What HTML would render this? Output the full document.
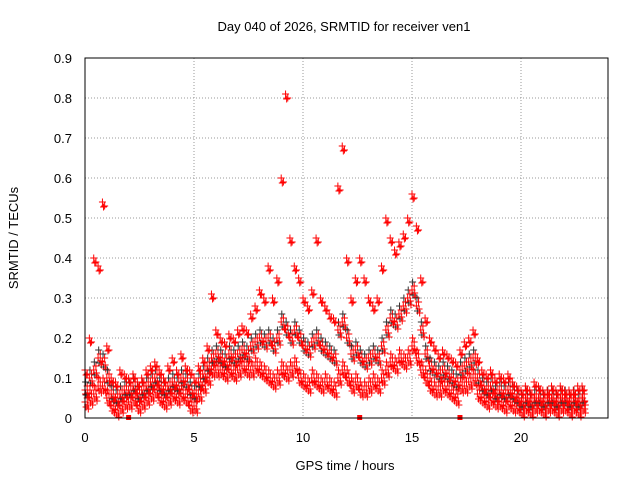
<!DOCTYPE html>
<html><head><meta charset="utf-8"><style>
body{margin:0;background:#fff;}
svg text{font-family:"Liberation Sans",sans-serif;font-size:13px;fill:#000;}
</style></head><body>
<svg width="640" height="480" xmlns="http://www.w3.org/2000/svg">
<text x="344" y="31" text-anchor="middle">Day 040 of 2026, SRMTID for receiver ven1</text>
<g id="grid"></g>
<g id="ticks"></g>
<g id="pts"></g>
<rect x="85" y="58" width="523" height="360" fill="none" stroke="#000"/>
<text x="345" y="470" text-anchor="middle">GPS time / hours</text>
<text transform="translate(18,238) rotate(-90)" text-anchor="middle">SRMTID / TECUs</text>
</svg>
<script>
const xTicks=[0,5,10,15,20];
const yTicks=[0,0.1,0.2,0.3,0.4,0.5,0.6,0.7,0.8,0.9];
const yLabels=["0","0.1","0.2","0.3","0.4","0.5","0.6","0.7","0.8","0.9"];
const tStep=0.2;
const midVals=[.07,.10,.12,.15,.14,.10,.06,.05,.06,.07,.07,.08,.06,.07,.08,.09,.10,.08,.07,.08,.09,.08,.10,.09,.07,.06,.09,.11,.13,.15,.16,.15,.14,.16,.15,.16,.17,.16,.18,.19,.20,.19,.20,.18,.20,.24,.22,.20,.22,.20,.18,.17,.19,.20,.18,.17,.16,.15,.22,.24,.20,.16,.17,.15,.14,.15,.16,.15,.18,.22,.25,.24,.26,.28,.30,.32,.28,.22,.16,.13,.12,.11,.12,.11,.10,.09,.12,.13,.14,.15,.10,.08,.07,.08,.06,.07,.06,.07,.06,.05,.04,.05,.04,.05,.05,.04,.05,.05,.04,.05,.05,.04,.05,.04,.05];
const hiVals=[.12,.20,.40,.38,.54,.18,.10,.09,.12,.11,.10,.11,.09,.10,.12,.13,.14,.12,.10,.13,.15,.12,.16,.13,.12,.10,.13,.15,.18,.31,.22,.20,.19,.21,.20,.22,.23,.22,.26,.28,.32,.30,.38,.30,.35,.60,.81,.45,.38,.35,.30,.28,.32,.45,.30,.28,.26,.25,.58,.68,.40,.30,.35,.40,.35,.30,.28,.30,.38,.50,.45,.42,.44,.46,.50,.56,.48,.35,.25,.20,.18,.16,.17,.16,.15,.14,.17,.19,.20,.22,.15,.12,.11,.12,.10,.11,.10,.11,.09,.08,.07,.08,.07,.09,.08,.07,.07,.08,.07,.08,.07,.07,.07,.08,.08];
const loVals=[.04,.05,.06,.08,.08,.05,.03,.02,.03,.04,.04,.05,.03,.04,.05,.06,.07,.05,.04,.05,.06,.05,.06,.05,.03,.03,.06,.08,.10,.12,.12,.12,.11,.12,.11,.12,.13,.12,.12,.13,.12,.11,.10,.09,.10,.12,.11,.12,.13,.10,.09,.08,.10,.09,.08,.09,.08,.07,.10,.12,.10,.08,.09,.07,.07,.08,.09,.08,.10,.12,.14,.13,.15,.14,.15,.18,.15,.12,.10,.08,.07,.07,.08,.07,.06,.05,.08,.08,.09,.10,.06,.05,.04,.05,.04,.04,.03,.04,.03,.03,.02,.03,.02,.03,.03,.02,.03,.03,.02,.03,.03,.02,.03,.02,.03];
const gapMarks=[2.0,12.6,17.2];
const X=t=>85+t*(436/20), Y=v=>418-v*400;
const NS="http://www.w3.org/2000/svg";
function mk(tag,at,parent){const e=document.createElementNS(NS,tag);for(const k in at)e.setAttribute(k,at[k]);parent.appendChild(e);return e;}
const grid=document.getElementById('grid'),ticks=document.getElementById('ticks'),pts=document.getElementById('pts');
xTicks.forEach(t=>{
 const l=mk('line',{x1:X(t),x2:X(t),y1:58,y2:418,stroke:'#999','stroke-dasharray':'1,2'},grid);
 
 
 const tx=mk('text',{x:X(t),y:442,'text-anchor':'middle'},ticks);tx.textContent=t;
 
 
});
yTicks.forEach((v,i)=>{
 const l=mk('line',{x1:85,x2:608,y1:Y(v),y2:Y(v),stroke:'#999','stroke-dasharray':'1,2'},grid);
 
 
 const tx=mk('text',{x:72,y:Y(v)+5,'text-anchor':'end'},ticks);tx.textContent=yLabels[i];
 
 
});
function plus(x,y,c){
 const p=mk('path',{d:`M${x-3.5},${y}H${x+3.5}M${x},${y-3.5}V${y+3.5}`,stroke:c,'stroke-width':1},pts);
 
 
}
// each value drawn as a small smeared cluster (pixel offsets only)
const offs=[[0,0],[1.1,5],[2.2,-4],[3.3,7],[0.6,-8],[2.7,3]];
[loVals,midVals,hiVals].forEach((arr,si)=>arr.forEach((v,i)=>{
 const x0=X(i*tStep), y0=Y(v);
 const n = si===2 ? 3 : 6;
 for(let k=0;k<n;k++){
  let dy=offs[k][1]; if(si===2) dy=Math.abs(dy)*(k===0?0:1);
  if(y0+dy>418) dy=-Math.abs(dy);
  plus(x0+offs[k][0], y0+dy, (si===1&&k%3===1)?'#333':'#f00');
 }
}));
gapMarks.forEach(t=>{
 const r=mk('rect',{x:X(t)-2.5,y:415,width:5,height:5,fill:'#f00'},pts);
 
 
});
</script>
</body></html>
